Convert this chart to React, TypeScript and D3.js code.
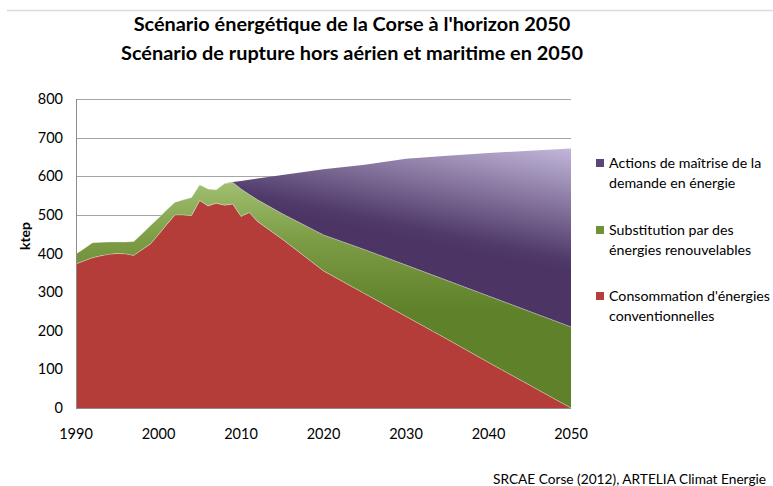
import React from "react";
import * as d3 from "d3";

const years = [
  1990, 1991, 1992, 1993, 1994, 1995, 1996, 1997, 1998, 1999, 2000, 2001, 2002,
  2003, 2004, 2005, 2006, 2007, 2008, 2009, 2010, 2011, 2012, 2015, 2020, 2025,
  2030, 2035, 2040, 2045, 2050,
];
// Consommation d'énergies conventionnelles (ktep)
const conventionnelle = [
  373, 381, 389, 394, 398, 400, 399, 395, 410, 424, 449, 475, 500, 500, 498, 537,
  523, 530, 525, 528, 496, 506, 483, 437, 355, 296, 237, 178, 118, 59, 0,
];
// Substitution par des énergies renouvelables (ktep)
const renouvelable = [
  26, 32, 39, 35, 32, 30, 31, 36, 41, 48, 43, 38, 33, 39, 47, 41, 44, 35, 56, 56,
  71, 47, 56, 66, 93, 114, 133, 152, 172, 191, 210,
];
// Actions de maîtrise de la demande en énergie (ktep)
const maitrise = [
  0, 0, 0, 0, 0, 0, 0, 0, 0, 0, 0, 0, 0, 0, 0, 0, 0, 0, 0, 1, 21, 38, 55, 100,
  170, 220, 275, 323, 370, 416, 462,
];

const seriesKeys = ["conv", "renouv", "maitrise"];
const legendLabels = [
  ["Actions de maîtrise de la", "demande en énergie"],
  ["Substitution par des", "énergies renouvelables"],
  ["Consommation d'énergies", "conventionnelles"],
];
const legendColors = ["#5a4478", "#6f9236", "#b53d3a"];
const yTicks = [0, 100, 200, 300, 400, 500, 600, 700, 800];
const xTicks = [1990, 2000, 2010, 2020, 2030, 2040, 2050];
const titleLines = [
  "Scénario énergétique de la Corse à l'horizon 2050",
  "Scénario de rupture hors aérien et maritime en 2050",
];
const yLabel = "ktep";
const sourceText = "SRCAE Corse (2012), ARTELIA Climat Energie";

const W = 773;
const H = 486;
const margin = { left: 76, right: 202, top: 99, bottom: 78 };
const font = "Lato, 'Open Sans', sans-serif";

export default function App() {
  const x = d3
    .scaleLinear()
    .domain([1990, 2050])
    .range([margin.left, W - margin.right]);
  const y = d3
    .scaleLinear()
    .domain([0, 800])
    .range([H - margin.bottom, margin.top]);

  const rows = years.map((yr, i) => ({
    year: yr,
    conv: conventionnelle[i],
    renouv: renouvelable[i],
    maitrise: maitrise[i],
  }));
  const stacked = d3.stack<any>().keys(seriesKeys)(rows);
  const area = d3
    .area<any>()
    .x((d) => x(d.data.year))
    .y0((d) => y(d[0]))
    .y1((d) => y(d[1]));
  const topLine = d3
    .line<any>()
    .x((d) => x(d.data.year))
    .y((d) => y(d[1]));

  const fills = ["#b43d3a", "url(#gGreen)", "url(#gPurple)"];

  return (
    <svg
      width={W}
      height={H}
      style={{ position: "absolute", left: 0, top: 0, display: "block" }}
    >
      <defs>
        <linearGradient
          id="gGreen"
          gradientUnits="userSpaceOnUse"
          x1="0"
          y1={y(590)}
          x2="0"
          y2={y(250)}
        >
          <stop offset="0" stopColor="#a2c172" />
          <stop offset="0.45" stopColor="#7c9c45" />
          <stop offset="1" stopColor="#5f812a" />
        </linearGradient>
        <linearGradient
          id="gPurple"
          gradientUnits="userSpaceOnUse"
          x1={x(2050)}
          y1={y(350)}
          x2={x(2053)}
          y2={y(660)}
        >
          <stop offset="0" stopColor="#4c3565" />
          <stop offset="0.1" stopColor="#4f3a69" />
          <stop offset="1" stopColor="#c3b7da" />
        </linearGradient>
      </defs>
      <rect width={W} height={H} fill="#ffffff" />
      <line x1={7} x2={W} y1={10.5} y2={10.5} stroke="#dcdcdc" strokeWidth={1.5} />

      {titleLines.map((t, i) => (
        <text
          key={i}
          x={352}
          y={31 + i * 29}
          textAnchor="middle"
          fontFamily={font}
          fontWeight="bold"
          fontSize={19.9}
          fill="#000"
        >
          {t}
        </text>
      ))}

      {yTicks.map((t) => (
        <g key={t}>
          {t > 0 && (
            <line
              x1={margin.left}
              x2={W - margin.right}
              y1={Math.round(y(t)) + 0.5}
              y2={Math.round(y(t)) + 0.5}
              stroke="#a6a6a6"
              strokeWidth={1}
            />
          )}
          <text
            x={63}
            y={y(t) + 5}
            textAnchor="end"
            fontFamily={font}
            fontSize={14.5}
            fill="#000"
          >
            {t}
          </text>
        </g>
      ))}

      {stacked.map((s, i) => (
        <path key={s.key} d={area(s) || ""} fill={fills[i]} />
      ))}
      {stacked.slice(0, 2).map((s) => (
        <path
          key={"l" + s.key}
          d={topLine(s) || ""}
          fill="none"
          stroke="#ffffff"
          strokeOpacity={0.45}
          strokeWidth={0.8}
        />
      ))}

      <line
        x1={margin.left + 0.5}
        x2={margin.left + 0.5}
        y1={margin.top}
        y2={H - margin.bottom}
        stroke="#8c8c8c"
      />
      <line
        x1={margin.left}
        x2={W - margin.right}
        y1={Math.round(y(0)) + 0.5}
        y2={Math.round(y(0)) + 0.5}
        stroke="#8c8c8c"
      />

      {xTicks.map((t) => (
        <text
          key={t}
          x={x(t)}
          y={439}
          textAnchor="middle"
          fontFamily={font}
          fontSize={14.5}
          fill="#000"
        >
          {t}
        </text>
      ))}

      <text
        transform={`translate(30,236) rotate(-90)`}
        textAnchor="middle"
        fontFamily={font}
        fontWeight="bold"
        fontSize={14}
        fill="#000"
      >
        {yLabel}
      </text>

      {legendLabels.map((lines, i) => {
        const cy = [163, 230, 296][i];
        return (
          <g key={i}>
            <rect
              x={596}
              y={cy - 4}
              width={8}
              height={8}
              fill={legendColors[i]}
            />
            {lines.map((ln, j) => (
              <text
                key={j}
                x={609}
                y={cy + 5 + j * 20}
                fontFamily={font}
                fontSize={14.2}
                fill="#000"
              >
                {ln}
              </text>
            ))}
          </g>
        );
      })}

      <text
        x={493}
        y={484}
        fontFamily={font}
        fontSize={13.7}
        fill="#000"
      >
        {sourceText}
      </text>
    </svg>
  );
}
